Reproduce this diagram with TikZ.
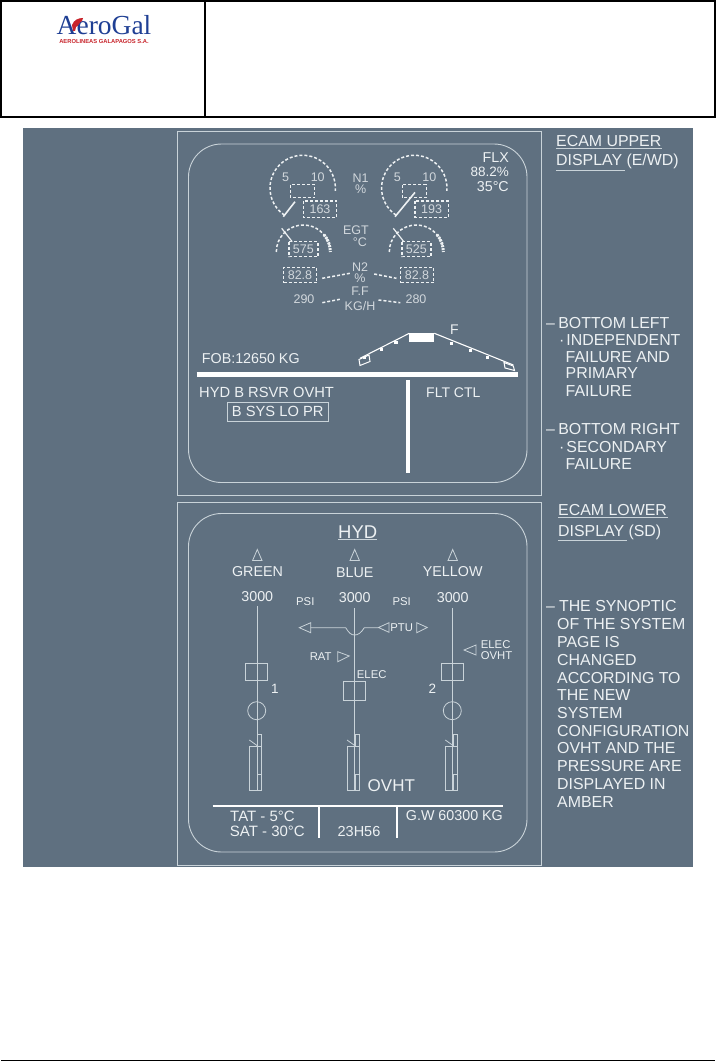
\documentclass[tikz,border=0pt]{standalone}
\usepackage{fontspec}
\setmainfont{Liberation Sans}
\newfontfamily\logofont{Liberation Serif}
\usetikzlibrary{calc}
\definecolor{panelgray}{HTML}{5F7080}
\definecolor{inkwhite}{HTML}{EDF1F3}
\definecolor{framegray}{HTML}{C9D3D9}
\definecolor{logoblue}{HTML}{1F3F94}
\definecolor{logored}{HTML}{C8242B}
\newcommand{\fsz}[1]{\fontsize{#1}{#1}\selectfont}
\tikzset{
  lbl/.style={inner sep=0pt, text=inkwhite, font=\fsz{14.3}},
  side/.style={lbl, anchor=west, font=\fsz{15.9}},
  small/.style={lbl, font=\fsz{11.3}},
  dim/.style={inner sep=0pt, text height=9pt, text depth=0pt, text=inkwhite!80!panelgray, font=\fsz{12.5}},
  syn/.style={draw=framegray, line width=0.8pt},
  dashline/.style={draw=inkwhite, line width=1.5pt, dash pattern=on 3pt off 2pt},
  bar/.style={draw=white, line width=4.5pt}
}
\begin{document}
\begin{tikzpicture}[x=1pt,y=-1pt]
  \useasboundingbox (0,0) rectangle (716,1062);
  \fill[white] (0,0) rectangle (716,1062);
  % Header table
  \draw[line width=2pt] (1,1) rectangle (715,117);
  \draw[line width=2pt] (204.5,1) -- (204.5,117);
  \draw[line width=1.6pt] (1,1060.5) -- (715,1060.5);
  % Logo
  \node[inner sep=0pt, anchor=base west, text depth=0pt, text=logoblue, font=\logofont\fsz{27.5}] (logoname) at (56.5,35) {AeroGal};
  \node[inner sep=0pt, text=logored, font=\fsz{5.8}\bfseries] (logosub) at (104,42) {AEROLINEAS GALAPAGOS S.A.};
  \fill[logored] (72,25) .. controls (74,20) and (78,18) .. (83,18) -- (82,21) .. controls (79,22) and (79,26) .. (76,27) -- (75,31) -- (73,31) -- cycle;
  % Panel
  \fill[panelgray] (23,128) rectangle (693,867);
  \draw[framegray, line width=0.9pt] (177,131) rectangle (541,495);
  \draw[framegray, line width=0.9pt] (177,502) rectangle (541,865);
  \draw[framegray, line width=0.9pt, rounded corners=33pt] (188.5,144) rectangle (527,482.5);
  \draw[framegray, line width=0.9pt, rounded corners=33pt] (188.5,513.5) rectangle (527,852);

  % Side notes, upper
  \node[side] (ecamup) at (556,141) {ECAM UPPER};
  \node[side] (dispup) at (556,161) {DISPLAY (E/WD)};
  \draw[framegray, line width=0.9pt] (ecamup.south west)++(0,2) -- ++(106,0);
  \draw[framegray, line width=0.9pt] (dispup.south west)++(0,1.5) -- ++(69,0);
  \node[side] (botleft) at (546,323) {–\hspace{3.3pt}BOTTOM LEFT};
  \node[side] (indep) at (559,340) {·\hspace{2pt}INDEPENDENT};
  \node[side] (failand) at (565.5,357) {FAILURE AND};
  \node[side] (primary) at (565.5,373) {PRIMARY};
  \node[side] (failone) at (565.5,391) {FAILURE};
  \node[side] (botright) at (546,429) {–\hspace{3.3pt}BOTTOM RIGHT};
  \node[side] (second) at (559,447) {·\hspace{2pt}SECONDARY};
  \node[side] (failtwo) at (565.5,464) {FAILURE};
  % Side notes, lower
  \node[side] (ecamlow) at (558,510) {ECAM LOWER};
  \node[side] (displow) at (558,532) {DISPLAY (SD)};
  \draw[framegray, line width=0.9pt] (ecamlow.south west)++(0,2) -- ++(110,0);
  \draw[framegray, line width=0.9pt] (displow.south west)++(0,1) -- ++(69,0);
  \node[side] (syna) at (546,606) {–\hspace{4pt}THE SYNOPTIC};
  \node[side] (synb) at (557,624) {OF THE SYSTEM};
  \node[side] (sync) at (557,642) {PAGE IS};
  \node[side] (synd) at (557,660) {CHANGED};
  \node[side] (syne) at (557,678) {ACCORDING TO};
  \node[side] (synf) at (557,695) {THE NEW};
  \node[side] (syng) at (557,713) {SYSTEM};
  \node[side] (synh) at (557,731) {CONFIGURATION};
  \node[side] (syni) at (557,748) {OVHT AND THE};
  \node[side] (synj) at (557,766) {PRESSURE ARE};
  \node[side] (synk) at (557,784) {DISPLAYED IN};
  \node[side] (synl) at (557,802) {AMBER};

  % FLX
  \node[lbl, anchor=east] (flx) at (509,158) {FLX};
  \node[lbl, anchor=east, font=\fsz{13.5}] (flxpct) at (509,172) {88.2\%};
  \node[lbl, anchor=east] (flxtemp) at (509,187) {35°C};

  % N1 gauges
  \foreach \cx/\val/\nx/\nw/\nh in {302.7/163/283.3/11.7/15, 414.3/193/395/20/24.3}{
    \draw[dashline] (\cx,188)++(124:32.7) arc[start angle=124, end angle=365, radius=32.7];
    \draw[dashline] (\cx-12,184.5) rectangle (\cx+12,197.5);
    \draw[draw=inkwhite, line width=1.6pt] (\nx,216.7) -- ++(\nw,-\nh);
    \draw[dashline] (\cx+0.6,201) rectangle (\cx+34,217.3);
    \node[dim] at (\cx+17.3,209) {\val};
    \node[dim] at (\cx-17,176.7) {5};
    \node[dim] at (\cx+15,177) {10};
  }
  \node[dim] (nonelab) at (360.7,177.7) {N1};
  \node[dim] (nonepct) at (360.7,189.3) {\%};
  % EGT gauges
  \foreach \cx/\val/\nx in {303.3/575/281.7, 416.3/525/393.3}{
    \draw[dashline] (\cx,252)++(180:27) arc[start angle=180, end angle=345, radius=27];
    \draw[draw=inkwhite, line width=3pt, dash pattern=on 2pt off 1pt] (\cx,252)++(320:27) arc[start angle=320, end angle=360, radius=27];
    \draw[draw=inkwhite, line width=1.2pt] (\nx,228.3) -- ++(10.5,13.4);
    \draw[dashline] (\cx-14.5,241.7) rectangle (\cx+14.5,256.7);
    \node[dim] at (\cx,249.2) {\val};
  }
  \node[dim] (egtlab) at (356,230) {EGT};
  \node[dim] (egtdeg) at (360,241.7) {°C};
  % N2 and fuel flow
  \node[dim] (ntwolab) at (360,266.7) {N2};
  \node[dim] (ntwopct) at (360,278.3) {\%};
  \node[dim, draw=inkwhite, dash pattern=on 3pt off 2pt, line width=1.5pt, minimum width=33pt, minimum height=15.4pt] (ntwol) at (300,275) {82.8};
  \node[dim, draw=inkwhite, dash pattern=on 3pt off 2pt, line width=1.5pt, minimum width=33pt, minimum height=15.4pt] (ntwor) at (417,275) {82.8};
  \draw[dashline] ($(ntwol.east)+(5,3.3)$) -- ($(ntwolab.west)+(-2,6.6)$);
  \draw[dashline] ($(ntwolab.east)+(6,7.3)$) -- ($(ntwor.west)+(-3.3,3.3)$);
  \node[dim] (fflab) at (360,290.7) {F.F};
  \node[dim] (ffunit) at (360,305.7) {KG/H};
  \node[dim] (ffl) at (304,299.3) {290};
  \node[dim] (ffr) at (416,299.3) {280};
  \draw[dashline] ($(ffl.east)+(7.7,3.4)$) -- ($(ffunit.west)+(-4.7,-6.4)$);
  \draw[dashline] ($(ffunit.east)+(3,-5.7)$) -- ($(ffr.west)+(-5,3.4)$);

  % Flap indication
  \fill[white] (409.3,332.7) rectangle (434.3,342);
  \draw[white, line width=1.1pt] (409.3,333.3) -- (360,358.3);
  \draw[white, line width=1.1pt] (434.3,333.3) -- (513.3,365);
  \draw[white, line width=1pt] (359,359.5) -- (369,355) -- (370,361.5) -- (360,365.5) -- cycle;
  \draw[white, line width=1pt] (504,362.5) -- (513.3,366) -- (514.5,370.5) -- (505,368) -- cycle;
  \foreach \tx/\ty in {364.5/357.5, 381.7/349.3, 396/342.7, 451.7/343.3, 470.7/350.7, 487.7/357.7}{
    \fill[white] (\tx-1.7,\ty-1.7) rectangle (\tx+1.7,\ty+1.7);
  }
  \node[lbl, font=\fsz{14}] (flapf) at (454.3,330) {F};
  \node[lbl, anchor=west] (fob) at (201.7,358.3) {FOB:12650 KG};
  \draw[bar] (196.7,374.7) -- (518.3,374.7);
  \draw[bar, line width=4pt] (408,380) -- (408,473.3);
  % Warning messages
  \node[lbl, anchor=west, font=\fsz{14.7}] (hydmsg) at (199,392.7) {HYD B RSVR OVHT};
  \node[lbl, draw=framegray, line width=0.9pt, minimum width=100.5pt, minimum height=19pt, font=\fsz{14.7}] (bsys) at (277.7,411.5) {B SYS LO PR};
  \node[lbl, anchor=west, font=\fsz{14}] (fltctl) at (426,393) {FLT CTL};

  % HYD page
  \node[lbl, font=\fsz{18.5}] (hyd) at (357.7,532.3) {HYD};
  \draw[framegray, line width=1pt] (338,539.5) -- (377,539.5);
  \node[lbl] (green) at (257.5,571.7) {GREEN};
  \node[lbl] (blue) at (354.7,572.7) {BLUE};
  \node[lbl] (yellow) at (452.7,572) {YELLOW};
  \node[lbl] (pgreen) at (257.3,596.7) {3000};
  \node[lbl] (pblue) at (354.7,598) {3000};
  \node[lbl] (pyellow) at (452.7,597.7) {3000};
  \node[small] (psil) at (305.3,602) {PSI};
  \node[small] (psir) at (401.7,602) {PSI};
  \foreach \tx in {257.3,354.7,452.7}{
    \draw[syn] (\tx,549.5) -- (\tx+4.7,560.5) -- (\tx-4.7,560.5) -- cycle;
  }
  % Vertical supply lines
  \coordinate (gbot) at (257.3,790);
  \coordinate (bbot) at (354.7,790);
  \coordinate (ybot) at (452.7,790);
  \draw[syn] (pgreen.south)++(0,4.5) -- (gbot);
  \draw[syn] (pblue.south)++(0,5) -- (bbot);
  \draw[syn] (pyellow.south)++(0,5) -- (ybot);
  % PTU
  \node[small] (ptu) at (401.7,627.3) {PTU};
  \draw[syn] (299.3,627.7) -- (310.7,622.7) -- (310.7,632.7) -- cycle;
  \draw[syn] (310.7,627.7) -- (345.7,627.7) .. controls (349,633) and (351,635) .. (354.7,635) .. controls (358,635) and (361,633) .. (364.3,627.7) -- (378.5,627.7);
  \draw[syn] (378.5,627.5) -- (389,622.7) -- (389,632.3) -- cycle;
  \draw[syn] (427.3,627.5) -- (416.7,622.7) -- (416.7,632.7) -- cycle;
  % RAT and ELEC
  \node[small] (rat) at (320.7,656.7) {RAT};
  \draw[syn] (349.3,656) -- (337.7,651.7) -- (337.7,661.7) -- cycle;
  \draw[syn] (464,650) -- (476,645) -- (476,655) -- cycle;
  \node[small, anchor=west] (elecy) at (480.7,644.3) {ELEC};
  \node[small, anchor=west] (ovhty) at (480.7,656) {OVHT};
  \node[small] (elecb) at (371.7,675) {ELEC};
  % Pumps
  \draw[syn] (245.7,663.3) rectangle (267.7,680.7);
  \draw[syn] (343.7,681.7) rectangle (365.7,700);
  \draw[syn] (441.7,663.3) rectangle (463.7,680.7);
  \node[lbl, font=\fsz{13.5}] (one) at (275,689) {1};
  \node[lbl, font=\fsz{13.5}] (two) at (432.3,688.3) {2};
  \draw[syn] (256.7,710.7) circle (9);
  \draw[syn] (452.3,710.7) circle (9);
  % Reservoirs
  \foreach \dx in {0,97.7,196}{
    \draw[syn] (249.3+\dx,746) rectangle (261.7+\dx,790);
    \draw[syn] (257.7+\dx,746) -- (257.7+\dx,734.3) -- (261.7+\dx,734.3) -- (261.7+\dx,746);
    \draw[syn] (249.3+\dx,740) -- (257.7+\dx,746);
    \draw[syn] (257.7+\dx,790) -- (257.7+\dx,774) -- (261.7+\dx,774);
  }
  \node[lbl, font=\fsz{17}] (ovht) at (391.3,786) {OVHT};

  % Status strip
  \draw[white, line width=2.4pt] (212.7,806) -- (503.3,806);
  \draw[white, line width=2.4pt] (319,806) -- (319,837.5);
  \draw[white, line width=2.4pt] (396.7,806) -- (396.7,837.5);
  \node[lbl, anchor=west, font=\fsz{15}] (tat) at (230,816) {TAT - 5°C};
  \node[lbl, anchor=west, font=\fsz{15}] (sat) at (229.7,831) {SAT - 30°C};
  \node[lbl, font=\fsz{14.5}] (clock) at (359,831) {23H56};
  \node[lbl, anchor=west] (gw) at (405.7,816) {G.W 60300 KG};
\end{tikzpicture}
\end{document}
